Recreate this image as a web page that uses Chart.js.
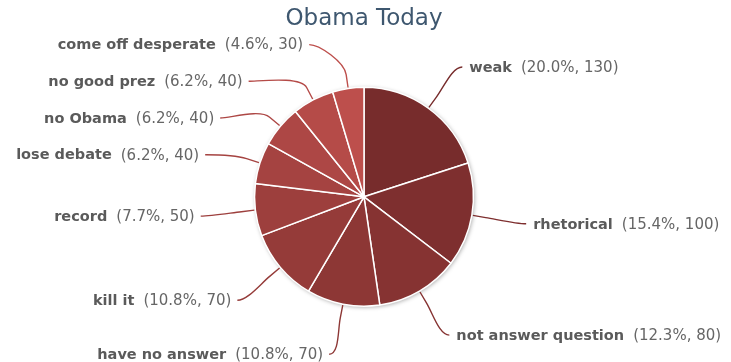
<!DOCTYPE html>
<html>
<head>
<meta charset="utf-8">
<title>Obama Today</title>
<script src="https://cdn.jsdelivr.net/npm/chart.js@4.4.1/dist/chart.umd.min.js"></script>
<style>
  html, body { margin: 0; padding: 0; background: #ffffff; }
  #wrap { width: 731px; height: 362px; }
</style>
</head>
<body>
<div id="wrap"><canvas id="pieChart" width="731" height="362"></canvas></div>
<script>
// Answers and counts
const categories = [
  "weak",
  "rhetorical",
  "not answer question",
  "have no answer",
  "kill it",
  "record",
  "lose debate",
  "no Obama",
  "no good prez",
  "come off desperate",
];
const counts = [130, 100, 80, 70, 70, 50, 40, 40, 40, 30];

// dark to light reds, one per slice
const sliceColors = [
  "#772c2c",
  "#7e2f2f",
  "#863332",
  "#8d3735",
  "#953b39",
  "#9d3f3d",
  "#a54341",
  "#ad4745",
  "#b54b48",
  "#bd4f4c",
];

const FONT = "'DejaVu Sans', Verdana, sans-serif";

// Draws the outside labels with curved connectors
const outsideLabels = {
  id: "outsideLabels",
  beforeDatasetsDraw(chart) {
    // soft shadow around the pie
    const arc = chart.getDatasetMeta(0).data[0];
    if (!arc) return;
    const ctx = chart.ctx;
    ctx.save();
    ctx.beginPath();
    ctx.arc(arc.x, arc.y, arc.outerRadius, 0, Math.PI * 2);
    ctx.shadowColor = "rgba(0,0,0,0.35)";
    ctx.shadowBlur = 4;
    ctx.shadowOffsetX = 1;
    ctx.shadowOffsetY = 1;
    ctx.fillStyle = "#ffffff";
    ctx.fill();
    ctx.restore();
  },
  afterDatasetsDraw(chart) {
    const ctx = chart.ctx;
    const meta = chart.getDatasetMeta(0);
    const data = chart.data.datasets[0].data;
    const total = data.reduce((a, b) => a + b, 0);
    const distance = 51;
    const spacing = 36.7;
    const labelTop = chart.chartArea.top - 42;

    const items = meta.data.map((el, i) => {
      const mid = (el.startAngle + el.endAngle) / 2;
      const R = el.outerRadius + distance;
      return {
        i: i,
        el: el,
        mid: mid,
        R: R,
        left: Math.cos(mid) < 0,
        y: el.y + Math.sin(mid) * R,
      };
    });

    // spread out labels on each side so they don't overlap
    [true, false].forEach((side) => {
      const group = items.filter((it) => it.left === side).sort((a, b) => a.y - b.y);
      let prev = labelTop - spacing;
      group.forEach((it) => {
        const ny = Math.max(it.y, prev + spacing);
        it.moved = ny !== it.y;
        it.y = ny;
        prev = ny;
      });
    });

    ctx.save();
    items.forEach((it) => {
      const el = it.el;
      const cx = el.x;
      const cy = el.y;
      const dir = it.left ? -1 : 1;
      const dy = it.y - cy;
      let x;
      if (it.moved) {
        x = cx + dir * Math.sqrt(Math.max(it.R * it.R - dy * dy, 0));
      } else {
        x = cx + Math.cos(it.mid) * it.R;
      }
      const y = it.y;

      // connector: edge -> break point -> curve into the label
      const ex = cx + Math.cos(it.mid) * (el.outerRadius + 1);
      const ey = cy + Math.sin(it.mid) * (el.outerRadius + 1);
      const bx = cx + Math.cos(it.mid) * (el.outerRadius + 14);
      const by = cy + Math.sin(it.mid) * (el.outerRadius + 14);
      ctx.beginPath();
      ctx.moveTo(x + dir * 4, y);
      ctx.bezierCurveTo(x - dir * 6, y, 2 * bx - ex, 2 * by - ey, bx, by);
      ctx.lineTo(ex, ey);
      ctx.strokeStyle = sliceColors[it.i];
      ctx.lineWidth = 1.4;
      ctx.stroke();

      // text: bold name, then (percent, value)
      const name = chart.data.labels[it.i];
      const pct = ((data[it.i] / total) * 100).toFixed(1);
      const extra = "(" + pct + "%, " + data[it.i] + ")";
      const boldFont = "bold 14.5px " + FONT;
      const normFont = "15px " + FONT;
      ctx.font = boldFont;
      const wName = ctx.measureText(name).width;
      ctx.font = normFont;
      const wExtra = ctx.measureText(extra).width;
      const gap = 9;
      const tx = it.left ? x - 10 - (wName + gap + wExtra) : x + 11;
      ctx.textBaseline = "middle";
      ctx.textAlign = "left";
      ctx.font = boldFont;
      ctx.fillStyle = "#5a5a5a";
      ctx.fillText(name, tx, y + 1);
      ctx.font = normFont;
      ctx.fillStyle = "#666666";
      ctx.fillText(extra, tx + wName + gap, y + 1);
    });
    ctx.restore();
  },
};

const ctx = document.getElementById("pieChart").getContext("2d");
new Chart(ctx, {
  type: "pie",
  data: {
    labels: categories,
    datasets: [
      {
        data: counts,
        backgroundColor: sliceColors,
        borderColor: "#ffffff",
        borderWidth: 1.5,
      },
    ],
  },
  options: {
    responsive: false,
    animation: false,
    layout: {
      padding: { left: 200, right: 203, top: 0, bottom: 55 },
    },
    plugins: {
      legend: { display: false },
      tooltip: { enabled: false },
      title: {
        display: true,
        text: "Obama Today",
        color: "#3e576f",
        font: { family: FONT, size: 23, weight: "normal" },
        padding: { top: 5, bottom: 54 },
      },
    },
  },
  plugins: [outsideLabels],
});
</script>
</body>
</html>
